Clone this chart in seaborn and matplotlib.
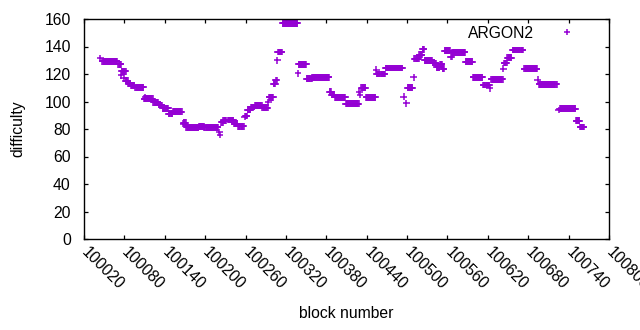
import numpy as np
import pandas as pd
import matplotlib
matplotlib.use("Agg")
import matplotlib.pyplot as plt
import seaborn as sns

# --- Data: runs of consecutive blocks sharing one difficulty ---
run_start = [100044, 100047, 100071, 100075, 100076, 100079, 100082, 100086, 100090,
             100096, 100111, 100109, 100123, 100131, 100137, 100146, 100152, 100167,
             100168, 100172, 100191, 100199, 100221, 100222, 100224, 100227, 100234,
             100243, 100249, 100259, 100260, 100263, 100268, 100274, 100285, 100294,
             100295, 100302, 100305, 100307, 100308, 100315, 100338, 100339, 100351,
             100359, 100385, 100388, 100393, 100409, 100429, 100430, 100432, 100439,
             100454, 100455, 100468, 100495, 100499, 100501, 100510, 100511, 100518,
             100523, 100526, 100538, 100544, 100549, 100553, 100556, 100565, 100567,
             100587, 100598, 100613, 100623, 100625, 100643, 100644, 100649, 100657,
             100674, 100694, 100696, 100725, 100727, 100751, 100757]
run_end = [100044, 100069, 100075, 100075, 100082, 100079, 100085, 100089, 100095,
           100108, 100111, 100122, 100130, 100136, 100145, 100151, 100165, 100167,
           100171, 100190, 100198, 100219, 100221, 100222, 100226, 100231, 100242,
           100248, 100257, 100259, 100262, 100267, 100273, 100284, 100293, 100294,
           100301, 100304, 100306, 100307, 100314, 100337, 100338, 100350, 100358,
           100384, 100387, 100392, 100408, 100428, 100429, 100430, 100438, 100453,
           100454, 100467, 100493, 100495, 100499, 100508, 100510, 100517, 100522,
           100525, 100537, 100543, 100548, 100552, 100555, 100564, 100566, 100586,
           100597, 100612, 100622, 100623, 100642, 100643, 100648, 100655, 100672,
           100693, 100694, 100722, 100725, 100750, 100756, 100763]
run_diff = [131.4, 129.2, 127.0, 119.0, 122.0, 117.0, 115.0, 113.0, 111.5,
            110.3, 103.0, 102.0, 99.5, 97.5, 95.0, 91.0, 92.5, 84.0,
            84.5, 81.2, 82.0, 81.2, 77.6, 75.6, 85.0, 86.0, 86.5,
            84.0, 82.0, 89.0, 89.5, 94.0, 96.0, 97.0, 95.5, 99.4,
            103.0, 113.0, 115.5, 130.0, 136.0, 157.0, 120.5, 127.0, 116.5,
            117.6, 107.0, 105.0, 103.0, 98.5, 107.0, 105.0, 110.0, 103.0,
            123.0, 120.0, 124.4, 103.5, 98.7, 110.0, 117.6, 131.0, 134.0,
            138.0, 130.0, 128.0, 125.0, 127.0, 124.0, 137.0, 132.6, 135.8,
            129.0, 117.5, 112.0, 109.6, 116.2, 124.0, 128.0, 132.0, 137.5,
            124.0, 116.0, 112.4, 93.8, 94.7, 86.0, 81.5]

x_ticks = list(range(100020, 100801, 60))
y_ticks = list(range(0, 161, 20))

# expand the runs into one point per block
blocks = np.concatenate([np.arange(s, e + 1) for s, e in zip(run_start, run_end)])
diffs = np.concatenate([np.full(e - s + 1, d) for s, e, d in zip(run_start, run_end, run_diff)])
df = pd.DataFrame({"block": blocks, "difficulty": diffs, "algo": "ARGON2"})

sns.set_theme(style="ticks")
plt.rcParams["font.family"] = ["Liberation Sans", "DejaVu Sans"]
plt.rcParams["xtick.direction"] = "in"
plt.rcParams["ytick.direction"] = "in"
plt.rcParams["text.color"] = "black"
plt.rcParams["axes.labelcolor"] = "black"
plt.rcParams["xtick.color"] = "black"
plt.rcParams["ytick.color"] = "black"
plt.rcParams["xtick.labelcolor"] = "black"
plt.rcParams["ytick.labelcolor"] = "black"

fig, ax = plt.subplots(figsize=(6.4, 3.3), dpi=100)
fig.subplots_adjust(left=84 / 640, right=609 / 640, bottom=91 / 330, top=311 / 330)

sns.scatterplot(data=df, x="block", y="difficulty", hue="algo",
                palette=["#9400d3"], marker="+", s=24, linewidth=1.1, ax=ax)

ax.set_xlim(100020, 100800)
ax.set_ylim(0, 160)
ax.set_xticks(x_ticks)
ax.set_yticks(y_ticks)
ax.tick_params(axis="both", which="major", length=3, width=0.9, color="black",
               labelcolor="black", labelsize=11.3, top=True, right=True)
ax.tick_params(axis="y", pad=9.5)
ax.tick_params(axis="x", pad=8)
for lab in ax.get_xticklabels():
    lab.set_rotation(-45)
    lab.set_ha("left")
    lab.set_va("center")
    lab.set_rotation_mode("anchor")
for sp in ax.spines.values():
    sp.set_visible(True)
    sp.set_linewidth(1.0)
    sp.set_color("black")

ax.set_xlabel("block number", fontsize=11.3, color="black")
ax.set_ylabel("difficulty", fontsize=11.3, color="black")
ax.xaxis.set_label_coords(0.5, -(306 - 239) / 220)
ax.yaxis.set_label_coords((25 - 84) / 525, 0.5)

leg = ax.legend(loc="upper right", bbox_to_anchor=(1 - 7 / 525, 1 + 1 / 220),
                frameon=False, markerfirst=False,
                handlelength=3.5, handletextpad=0.35, fontsize=11.3,
                borderaxespad=0.1, markerscale=1.0)
for t in leg.get_texts():
    t.set_color("black")

plt.savefig("out.png", dpi=100)
